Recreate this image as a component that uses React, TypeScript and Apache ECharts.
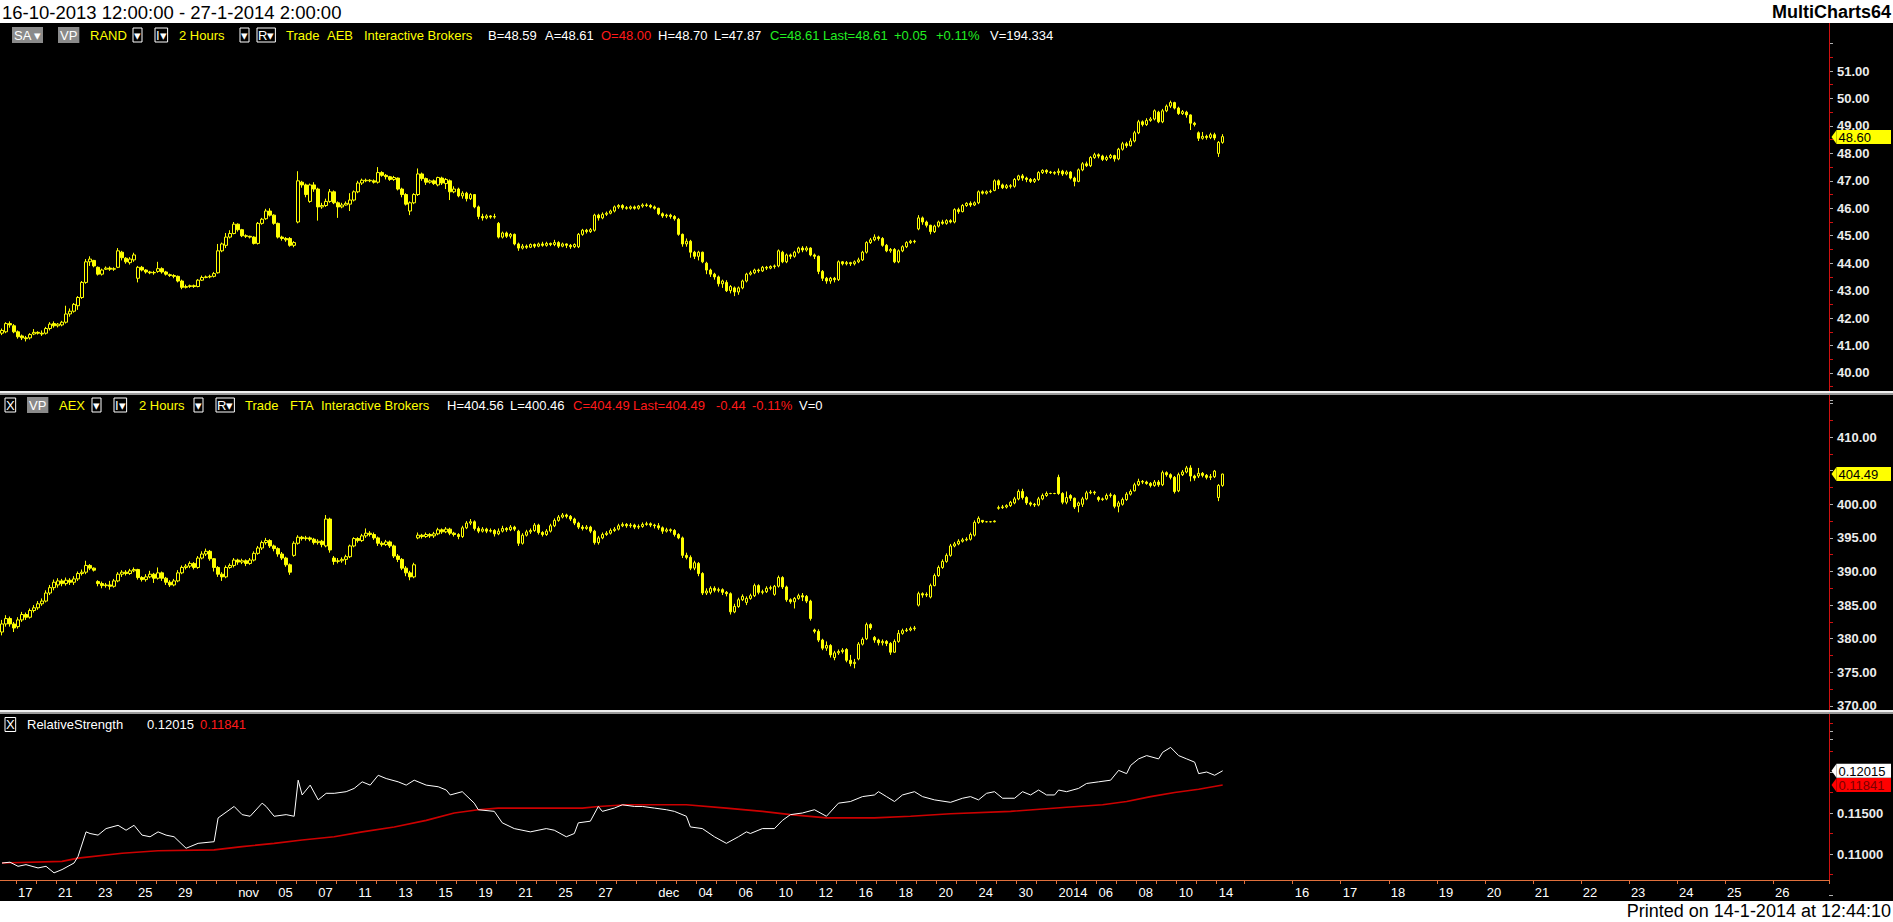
import React, { useEffect, useRef } from 'react';
import * as echarts from 'echarts';

const FONT = "'Liberation Sans', Arial, Helvetica, sans-serif";

// ---------- DATA ----------
// RAND 2-hour bars: [open, close, low, high]
const randBars: number[][] = [
[41.45,41.55,41.38,41.62],[41.50,41.80,41.45,41.85],[41.80,41.75,41.65,41.88],[41.72,41.50,41.45,41.78],[41.50,41.32,41.25,41.55],[41.35,41.28,41.20,41.40],[41.28,41.25,41.15,41.35],[41.28,41.40,41.22,41.45],[41.42,41.48,41.38,41.60],[41.48,41.45,41.40,41.52],
[41.45,41.42,41.35,41.55],[41.45,41.62,41.40,41.68],[41.62,41.78,41.55,41.85],[41.80,41.72,41.65,41.88],[41.72,41.78,41.66,41.82],[41.75,41.85,41.70,41.90],[41.85,42.15,41.80,42.45],[42.15,42.25,42.05,42.35],[42.25,42.50,42.20,42.55],[42.45,42.75,42.30,42.80],
[42.75,43.30,42.70,43.35],[43.30,44.05,43.25,44.15],[44.05,44.15,43.90,44.25],[44.10,43.90,43.85,44.12],[43.85,43.60,43.55,43.88],[43.60,43.75,43.55,43.80],[43.78,43.82,43.75,43.88],[43.82,43.78,43.72,43.88],[43.78,43.80,43.72,43.85],[43.85,44.45,43.82,44.55],
[44.40,44.20,44.10,44.45],[44.18,44.05,43.98,44.22],[44.02,44.15,43.95,44.22],[44.12,44.30,44.05,44.38],[43.45,43.85,43.30,43.90],[43.85,43.75,43.70,43.90],[43.75,43.68,43.62,43.78],[43.68,43.65,43.60,43.72],[43.65,43.66,43.58,43.72],[43.70,43.80,43.65,44.05],
[43.80,43.68,43.62,43.85],[43.68,43.60,43.55,43.72],[43.58,43.55,43.50,43.62],[43.55,43.52,43.45,43.60],[43.52,43.35,43.30,43.55],[43.35,43.12,43.05,43.40],[43.12,43.15,43.08,43.22],[43.15,43.18,43.10,43.22],[43.18,43.15,43.10,43.22],[43.15,43.38,43.12,43.42],
[43.38,43.48,43.35,43.55],[43.48,43.50,43.45,43.55],[43.50,43.52,43.45,43.58],[43.52,43.62,43.48,43.68],[43.65,44.45,43.62,44.70],[44.45,44.70,44.40,44.75],[44.65,44.95,44.55,45.10],[44.95,45.08,44.90,45.20],[45.08,45.42,45.05,45.50],[45.42,45.22,45.15,45.45],
[45.22,45.00,44.95,45.25],[45.00,44.98,44.92,45.05],[44.98,44.95,44.90,45.00],[44.95,44.72,44.68,44.98],[44.72,45.45,44.68,45.50],[45.45,45.60,45.40,45.65],[45.62,45.90,45.58,45.98],[45.90,45.75,45.70,46.00],[45.75,45.45,45.40,45.78],[45.45,44.95,44.90,45.48],
[44.95,44.90,44.82,45.00],[44.90,44.85,44.78,44.95],[44.90,44.65,44.60,44.95],[44.65,44.75,44.58,44.80],[45.50,47.00,45.45,47.35],[46.95,46.85,46.75,47.00],[46.85,46.50,46.40,46.90],[46.25,46.85,46.20,46.90],[46.85,46.70,46.60,46.95],[46.70,46.05,45.55,46.75],
[46.05,46.10,45.98,46.20],[46.10,46.25,46.05,46.35],[46.25,46.60,46.20,46.70],[46.60,46.20,46.15,46.65],[46.20,46.05,45.65,46.25],[46.05,46.12,46.00,46.20],[46.12,46.18,46.10,46.25],[46.15,46.30,45.90,46.55],[46.30,46.60,46.25,46.65],[46.60,46.92,46.55,47.00],
[46.92,47.02,46.85,47.08],[47.02,47.00,46.95,47.08],[47.00,47.02,46.95,47.06],[47.00,46.95,46.90,47.05],[46.95,47.30,46.90,47.50],[47.30,47.20,47.15,47.35],[47.20,47.15,47.05,47.25],[47.15,47.05,47.00,47.18],[47.05,47.12,47.00,47.18],[47.10,46.70,46.65,47.12],
[46.70,46.50,46.40,46.75],[46.50,46.15,46.10,46.55],[45.90,46.20,45.75,46.25],[46.20,46.50,46.15,46.55],[46.50,47.25,46.45,47.45],[47.25,47.08,47.00,47.30],[47.08,46.95,46.85,47.12],[46.95,47.00,46.90,47.05],[47.00,46.90,46.85,47.05],[46.85,47.12,46.80,47.15],
[47.10,46.92,46.85,47.15],[46.90,47.05,46.70,47.10],[47.00,46.60,46.30,47.05],[46.60,46.70,46.55,46.80],[46.70,46.45,46.40,46.75],[46.45,46.55,46.35,46.62],[46.55,46.35,46.25,46.60],[46.35,46.50,46.30,46.55],[46.50,46.05,46.00,46.52],[46.05,45.70,45.60,46.10],
[45.70,45.65,45.55,45.80],[45.65,45.72,45.60,45.78],[45.72,45.68,45.62,45.75],[45.68,45.70,45.62,45.80],[45.45,44.95,44.90,45.50],[44.95,45.10,44.90,45.15],[45.10,44.98,44.92,45.15],[44.98,45.05,44.90,45.10],[45.05,44.70,44.65,45.08],[44.70,44.55,44.45,44.75],
[44.55,44.62,44.50,44.70],[44.62,44.58,44.52,44.68],[44.58,44.68,44.55,44.72],[44.68,44.62,44.55,44.72],[44.62,44.70,44.58,44.75],[44.70,44.65,44.60,44.78],[44.65,44.72,44.60,44.78],[44.72,44.68,44.62,44.75],[44.68,44.75,44.62,44.85],[44.75,44.62,44.55,44.80],
[44.62,44.70,44.58,44.75],[44.70,44.65,44.55,44.72],[44.65,44.60,44.52,44.70],[44.60,44.68,44.55,44.72],[44.60,45.05,44.55,45.10],[45.05,45.20,45.00,45.25],[45.20,45.15,45.08,45.25],[45.15,45.22,45.10,45.28],[45.20,45.75,45.15,45.80],[45.75,45.65,45.55,45.80],
[45.65,45.78,45.60,45.85],[45.78,45.82,45.72,45.88],[45.82,45.90,45.78,45.95],[45.90,46.05,45.85,46.10],[46.05,46.10,45.98,46.15],[46.10,46.02,45.95,46.15],[46.02,46.00,45.95,46.08],[46.00,46.05,45.95,46.10],[46.05,46.00,45.95,46.10],[46.00,46.08,45.95,46.12],
[46.08,46.12,46.02,46.18],[46.12,46.10,46.05,46.18],[46.10,46.05,46.00,46.15],[46.05,46.00,45.95,46.10],[46.00,45.80,45.75,46.02],[45.80,45.72,45.65,45.85],[45.72,45.75,45.65,45.80],[45.75,45.70,45.62,45.80],[45.70,45.62,45.55,45.75],[45.60,45.05,45.00,45.65],
[45.05,44.70,44.60,45.08],[44.70,44.80,44.60,44.90],[44.80,44.40,44.20,44.85],[44.40,44.25,44.15,44.45],[44.25,44.40,44.10,44.45],[44.40,44.05,44.00,44.42],[44.00,43.75,43.60,44.05],[43.75,43.60,43.50,43.80],[43.60,43.50,43.40,43.65],[43.50,43.25,43.15,43.55],
[43.25,43.35,43.10,43.40],[43.30,43.00,42.95,43.38],[43.00,43.15,42.90,43.20],[43.10,42.95,42.80,43.15],[42.95,43.10,42.85,43.15],[43.10,43.35,43.05,43.40],[43.35,43.60,43.30,43.65],[43.60,43.65,43.55,43.72],[43.65,43.75,43.60,43.80],[43.75,43.72,43.65,43.80],
[43.72,43.85,43.68,43.90],[43.85,43.82,43.75,43.90],[43.82,43.88,43.78,43.92],[43.88,43.90,43.80,43.95],[43.90,44.45,43.85,44.50],[44.40,44.05,44.00,44.45],[44.05,44.30,44.00,44.35],[44.30,44.25,44.15,44.35],[44.25,44.40,44.20,44.45],[44.40,44.55,44.35,44.60],
[44.55,44.48,44.40,44.62],[44.48,44.55,44.42,44.62],[44.55,44.30,44.25,44.58],[44.30,44.25,44.15,44.35],[44.25,43.70,43.60,44.28],[43.70,43.45,43.35,43.75],[43.45,43.35,43.25,43.50],[43.35,43.45,43.25,43.50],[43.45,43.40,43.30,43.50],[43.40,44.05,43.35,44.10],
[44.05,43.98,43.92,44.08],[43.98,44.02,43.92,44.08],[44.02,43.98,43.90,44.05],[43.98,44.05,43.92,44.10],[44.05,44.12,44.00,44.20],[44.12,44.40,44.08,44.45],[44.40,44.75,44.35,44.80],[44.75,44.85,44.70,44.92],[44.85,44.95,44.80,45.05],[44.95,44.90,44.82,45.00],
[44.90,44.65,44.60,44.95],[44.65,44.45,44.40,44.70],[44.45,44.50,44.38,44.55],[44.50,44.05,44.00,44.55],[44.05,44.45,44.00,44.50],[44.45,44.60,44.40,44.65],[44.60,44.75,44.55,44.80],[44.75,44.80,44.70,44.85],[44.80,44.78,44.72,44.85],[45.25,45.65,45.20,45.75],
[45.65,45.50,45.40,45.70],[45.50,45.38,45.30,45.55],[45.38,45.15,45.05,45.40],[45.15,45.35,45.10,45.40],[45.35,45.50,45.30,45.55],[45.50,45.45,45.40,45.58],[45.45,45.55,45.40,45.60],[45.55,45.50,45.45,45.60],[45.50,45.95,45.45,46.00],[45.95,45.88,45.80,46.02],
[45.88,46.10,45.85,46.15],[46.10,46.18,46.05,46.22],[46.18,46.12,46.05,46.25],[46.12,46.20,46.08,46.25],[46.20,46.60,46.15,46.65],[46.60,46.55,46.50,46.65],[46.55,46.60,46.50,46.65],[46.60,46.62,46.55,46.68],[46.65,47.00,46.62,47.05],[47.00,46.85,46.70,47.05],
[46.85,46.75,46.70,46.90],[46.75,46.82,46.70,46.88],[46.82,46.80,46.72,46.88],[46.80,47.05,46.75,47.10],[47.05,47.18,47.00,47.22],[47.18,47.10,47.00,47.25],[47.10,47.05,46.95,47.15],[47.05,46.98,46.92,47.10],[46.98,47.05,46.92,47.10],[47.05,47.30,47.00,47.35],
[47.30,47.38,47.25,47.42],[47.38,47.32,47.25,47.42],[47.32,47.30,47.25,47.36],[47.30,47.28,47.22,47.35],[47.30,47.35,47.20,47.45],[47.35,47.25,47.18,47.40],[47.25,47.32,47.20,47.38],[47.32,47.10,47.05,47.35],[47.10,46.98,46.80,47.15],[46.98,47.40,46.95,47.45],
[47.40,47.62,47.35,47.68],[47.62,47.55,47.50,47.70],[47.55,47.85,47.50,47.90],[47.85,47.95,47.80,48.02],[47.95,47.90,47.82,48.00],[47.90,47.78,47.72,47.95],[47.78,47.85,47.72,47.92],[47.85,47.92,47.80,47.98],[47.92,47.80,47.70,47.95],[47.80,48.15,47.75,48.20],
[48.15,48.35,48.10,48.42],[48.35,48.28,48.20,48.42],[48.28,48.45,48.25,48.55],[48.45,48.75,48.40,48.82],[48.75,49.15,48.70,49.22],[49.15,49.05,48.98,49.20],[49.05,49.20,49.00,49.28],[49.20,49.25,49.15,49.32],[49.25,49.55,49.20,49.60],[49.50,49.15,49.10,49.55],
[49.15,49.55,49.10,49.62],[49.55,49.72,49.50,49.78],[49.72,49.85,49.65,49.92],[49.85,49.65,49.60,49.88],[49.65,49.45,49.40,49.70],[49.45,49.52,49.40,49.58],[49.50,49.40,49.30,49.55],[49.40,49.10,48.85,49.42],[49.10,49.05,48.98,49.15],[48.75,48.55,48.45,48.80],
[48.55,48.62,48.50,48.78],[48.62,48.58,48.50,48.68],[48.58,48.68,48.52,48.75],[48.68,48.56,48.48,48.75],[48.00,48.40,47.87,48.45],[48.40,48.61,48.35,48.70],
];

// AEX 2-hour bars: [open, close, low, high]
const aexBars: number[][] = [
[381.0,382.2,380.5,382.8],[382.2,383.0,381.8,383.5],[383.0,382.2,381.8,383.3],[382.2,381.6,381.0,382.5],[381.8,382.8,381.5,383.2],[382.8,383.6,382.5,384.0],[383.6,383.2,382.8,383.9],[383.2,384.2,383.0,384.5],[384.2,384.6,383.9,385.0],[384.6,385.2,384.3,385.6],
[385.2,385.6,384.9,386.0],[385.6,386.8,385.4,387.2],[386.8,387.6,386.5,388.0],[387.6,388.4,387.2,388.8],[388.0,388.6,387.6,389.0],[388.6,388.2,387.8,388.9],[388.2,388.7,387.9,389.1],[388.7,388.4,388.0,389.0],[388.4,388.9,388.0,389.3],[388.9,389.7,388.6,390.0],
[389.7,389.9,389.4,390.3],[389.9,390.9,389.6,391.6],[390.9,390.5,390.2,391.1],[390.5,390.2,390.0,390.6],[388.5,388.2,387.8,388.7],[388.2,387.9,387.5,388.5],[387.9,388.0,387.6,388.3],[388.0,387.8,387.3,388.6],[387.8,388.6,387.6,388.9],[388.6,389.6,388.4,389.9],
[389.6,389.9,389.2,390.2],[389.9,389.7,389.4,390.2],[389.7,390.1,389.5,390.4],[390.1,390.3,389.9,390.6],[390.3,389.1,388.8,390.4],[389.1,388.8,388.5,389.3],[388.8,389.2,388.5,389.6],[389.2,389.6,389.0,390.1],[389.6,389.0,388.3,389.8],[389.0,389.8,388.8,390.6],
[389.8,389.0,388.6,390.0],[389.0,388.4,388.0,389.2],[388.4,388.0,387.7,388.7],[388.0,388.6,387.8,388.9],[388.6,389.8,388.4,390.2],[389.8,390.6,389.6,390.9],[390.6,390.8,390.3,391.1],[390.8,391.2,390.5,391.5],[391.2,390.6,390.3,391.4],[390.6,392.0,390.4,392.3],
[392.0,392.6,391.8,393.0],[392.6,393.0,392.3,393.4],[393.0,391.9,391.6,393.2],[391.9,390.6,390.0,392.0],[390.6,389.6,389.2,390.8],[389.6,389.2,388.6,389.9],[389.2,390.6,389.0,390.9],[390.6,390.9,390.4,391.2],[390.9,391.7,390.6,392.0],[391.7,391.4,391.0,391.9],
[391.4,391.6,391.1,391.9],[391.6,391.2,390.8,391.8],[391.2,391.7,391.0,392.0],[391.7,392.7,391.5,393.0],[392.7,393.5,392.5,393.8],[393.5,394.3,393.2,394.6],[394.3,394.6,394.0,395.0],[394.6,393.8,393.5,394.8],[393.8,393.4,393.0,394.0],[393.4,392.6,392.2,393.6],
[392.6,392.0,391.7,392.9],[392.0,391.0,390.7,392.2],[391.0,389.9,389.5,391.2],[392.4,394.2,392.2,394.5],[394.2,395.1,394.0,395.4],[395.1,394.9,394.6,395.3],[394.9,395.0,394.6,395.3],[395.0,394.8,394.5,395.2],[394.8,394.3,394.0,395.0],[394.3,394.5,394.0,394.8],
[394.5,394.0,393.6,394.7],[393.8,397.8,393.6,398.4],[397.8,393.2,392.8,398.0],[392.0,391.5,391.0,392.3],[391.5,391.6,391.2,392.0],[391.6,391.8,391.3,392.1],[391.8,392.2,391.0,392.5],[392.2,393.8,392.0,394.0],[393.8,394.9,393.6,395.1],[394.9,394.6,394.3,395.1],
[394.6,395.3,394.4,395.6],[395.3,395.7,395.0,396.4],[395.7,395.5,395.2,396.0],[395.5,395.0,394.7,395.8],[395.0,394.2,393.8,395.2],[394.2,394.0,393.7,394.5],[394.0,394.4,393.8,394.7],[394.4,393.8,393.5,394.6],[393.8,392.3,392.0,394.0],[392.3,391.8,391.4,392.6],
[391.8,390.5,390.2,392.0],[390.5,389.8,389.3,390.8],[389.8,389.2,388.7,390.1],[389.2,391.0,389.0,391.3],[395.0,395.4,394.8,395.8],[395.4,395.2,394.9,395.6],[395.2,395.5,395.0,395.8],[395.5,395.3,395.0,395.7],[395.3,395.6,395.0,395.9],[395.6,396.2,395.4,396.5],
[396.2,395.9,395.6,396.4],[395.9,396.3,395.7,396.6],[396.3,395.7,395.4,396.5],[395.7,395.5,395.2,395.9],[395.5,395.2,394.8,395.7],[395.2,396.5,395.0,396.8],[396.5,397.2,396.3,397.5],[397.2,397.4,396.9,397.8],[397.4,396.4,396.1,397.6],[396.4,396.0,395.7,396.7],
[396.0,396.3,395.8,396.6],[396.3,396.0,395.7,396.5],[396.0,396.1,395.8,396.4],[396.1,395.6,395.2,396.3],[395.6,396.0,395.4,396.4],[396.0,396.4,395.8,396.8],[396.4,396.2,395.9,396.6],[396.2,396.6,396.0,396.9],[396.6,396.3,396.0,396.8],[396.0,394.2,393.8,396.2],
[394.2,395.4,394.0,395.7],[395.4,395.9,395.2,396.2],[395.9,396.1,395.6,396.4],[396.1,396.9,395.9,397.2],[396.9,395.8,395.5,397.1],[395.8,395.5,395.2,396.0],[395.5,396.0,395.3,396.3],[396.0,396.8,395.8,397.1],[396.8,397.6,396.6,397.9],[397.6,398.1,397.4,398.4],
[398.1,398.4,397.9,398.7],[398.4,398.2,397.9,398.6],[398.2,397.8,397.5,398.4],[397.8,397.2,396.9,398.0],[397.2,396.6,396.3,397.4],[396.6,396.4,396.1,396.9],[396.4,396.6,396.2,396.9],[396.6,396.0,395.7,396.8],[396.0,394.3,394.0,396.2],[394.3,395.0,394.0,395.3],
[395.0,395.5,394.8,395.8],[395.5,395.7,395.3,396.0],[395.7,396.1,395.5,396.4],[396.1,396.3,395.9,396.6],[396.3,396.8,396.1,397.1],[396.8,397.0,396.6,397.3],[397.0,396.8,396.5,397.2],[396.8,396.9,396.5,397.2],[396.9,396.6,396.3,397.1],[396.6,396.7,396.3,397.0],
[396.7,397.0,396.5,397.3],[397.0,397.1,396.8,397.4],[397.1,396.9,396.6,397.3],[396.9,396.8,396.4,397.1],[396.8,396.5,396.2,397.2],[396.5,396.0,395.6,396.7],[396.0,396.2,395.8,396.5],[396.2,396.1,395.8,396.4],[396.1,395.5,395.2,396.3],[395.5,395.0,394.8,395.7],
[395.0,392.4,392.0,395.2],[392.4,392.1,391.8,392.8],[392.1,390.5,390.2,392.4],[390.5,391.3,390.2,391.6],[391.2,389.7,389.3,391.4],[389.7,386.8,386.5,389.9],[386.8,387.1,386.5,387.5],[386.9,387.5,386.6,387.8],[387.5,387.2,386.9,387.8],[387.2,387.3,386.9,387.6],
[387.3,386.9,386.5,387.5],[386.9,386.7,386.3,387.1],[386.7,384.0,383.6,386.9],[384.0,384.8,383.8,385.2],[384.8,385.8,384.6,386.1],[385.8,386.3,385.6,386.6],[385.4,386.0,385.0,386.3],[386.0,386.4,385.8,386.7],[386.4,387.9,386.2,388.2],[387.9,386.9,386.6,388.1],
[386.9,387.0,386.6,387.3],[387.0,387.5,386.8,387.8],[387.5,387.6,387.2,387.9],[386.6,387.8,386.4,388.0],[387.8,389.1,387.6,389.4],[389.1,387.7,387.4,389.3],[387.7,385.8,385.5,387.9],[385.8,385.5,385.2,386.0],[385.5,386.0,384.5,386.2],[386.0,386.4,385.8,386.7],
[386.4,386.2,385.6,386.8],[386.3,385.6,385.3,386.5],[385.6,383.0,382.7,385.8],[381.3,381.1,380.8,381.5],[381.1,379.8,379.5,381.4],[379.8,378.6,378.3,380.0],[378.6,379.0,378.2,379.6],[379.0,377.6,377.2,379.2],[377.2,377.9,376.8,378.2],[377.9,378.1,377.6,378.4],
[378.1,378.3,377.8,378.6],[378.4,376.8,376.5,378.6],[376.8,376.3,375.9,377.6],[376.3,376.5,375.6,377.0],[377.0,379.2,376.8,379.5],[379.2,379.9,379.0,380.2],[380.0,382.1,379.8,382.4],[382.1,381.6,381.3,382.3],[380.2,379.8,379.4,380.4],[379.8,379.4,379.0,380.0],
[379.4,379.6,379.0,379.9],[379.6,379.3,378.9,379.8],[379.3,378.0,377.6,379.5],[378.0,379.6,377.9,379.9],[379.6,380.8,379.4,381.3],[380.8,381.2,380.6,381.5],[381.2,381.3,381.0,381.6],[381.3,381.5,381.1,381.8],[381.5,381.6,381.2,381.9],[385.0,386.7,384.8,387.0],
[386.7,386.5,386.1,386.9],[386.5,386.6,386.2,386.9],[386.2,387.9,386.0,388.2],[387.9,389.4,387.8,389.7],[389.4,390.6,389.2,390.9],[390.6,391.5,390.4,391.8],[391.5,392.4,391.3,392.7],[392.4,393.8,392.2,394.1],[393.8,394.1,393.6,394.4],[394.1,394.5,393.9,394.8],
[394.5,394.7,394.3,395.0],[394.7,394.8,394.5,395.1],[394.8,395.5,394.6,395.8],[395.4,397.3,395.2,397.6],[397.3,397.9,397.1,398.2],[397.6,397.4,397.2,397.6],[397.4,397.4,397.3,397.5],[397.4,397.4,397.3,397.5],[397.4,397.5,397.3,397.6],[399.4,399.5,399.2,399.8],
[399.5,399.6,399.3,399.9],[399.6,399.8,399.4,400.0],[399.8,400.3,399.6,400.5],[400.2,400.8,400.0,401.1],[400.8,401.9,400.6,402.2],[401.9,401.0,400.7,402.3],[401.0,400.2,399.9,401.2],[400.2,400.0,399.7,400.4],[400.0,399.9,399.6,400.2],[399.9,400.8,399.7,401.1],
[400.8,401.3,400.6,401.6],[401.3,401.6,401.1,401.9],[401.6,401.6,401.5,401.7],[401.6,401.6,401.5,401.7],[404.0,401.6,401.4,404.4],[401.6,400.3,400.0,401.8],[400.3,401.0,400.0,401.9],[401.3,400.9,400.5,401.5],[400.9,399.6,399.3,401.0],[399.8,400.2,398.8,400.4],
[400.0,400.8,399.6,401.1],[400.8,401.7,400.6,402.0],[401.7,401.8,401.5,402.1],[401.8,401.7,401.4,402.0],[401.0,400.7,400.4,401.2],[400.7,400.8,400.5,401.0],[400.8,401.3,400.6,401.6],[401.3,401.4,401.0,401.7],[401.3,399.7,399.4,401.5],[399.7,400.2,398.8,400.5],
[400.0,400.7,399.8,401.0],[400.7,401.5,400.5,401.8],[401.5,401.9,401.3,402.2],[402.0,402.9,401.9,403.2],[402.9,403.4,402.7,403.8],[403.4,403.3,403.0,403.6],[403.3,403.1,402.9,403.5],[403.1,402.8,402.5,403.3],[402.8,403.3,402.6,403.6],[403.3,402.9,402.6,403.6],
[402.9,404.7,402.7,405.0],[404.7,404.4,404.1,404.9],[404.4,404.0,403.7,404.6],[404.0,401.9,401.6,404.2],[402.0,404.4,401.8,404.7],[404.4,404.8,404.2,405.1],[404.8,405.4,404.6,405.7],[405.4,404.2,403.4,405.8],[404.2,403.9,403.5,404.4],[404.2,404.6,403.9,405.4],
[404.6,404.3,404.0,404.8],[404.3,404.0,403.7,404.5],[404.0,404.1,403.6,404.5],[404.1,404.93,403.9,405.1],[401.0,402.8,400.46,403.0],[402.8,404.49,402.6,404.56],
];

// Relative strength (white line), read at these bar numbers
const rsBar = [0,2,4,6,9,11,13,15,18,19,21,22,24,26,29,31,33,35,37,39,41,43,46,47,49,53,54,58,60,62,65,66,68,71,73,74,75,77,79,81,83,86,88,90,92,94,96,99,101,103,106,109,111,112,115,118,119,123,125,128,132,136,138,141,143,144,147,149,150,153,155,158,160,163,166,168,171,172,175,178,181,184,186,187,190,193,195,197,200,203,206,209,212,215,218,219,221,223,225,228,230,233,237,240,242,244,246,248,250,253,255,257,259,261,263,264,266,269,271,274,277,279,281,282,284,286,289,290,292,294,296,298,299,301,303,305];
const rsValue = [0.1089,0.1090,0.1085,0.1087,0.1083,0.1085,0.1077,0.1081,0.1089,0.1097,0.1127,0.1125,0.1123,0.1131,0.1135,0.1129,0.1135,0.1123,0.1121,0.1127,0.1123,0.1121,0.1107,0.1109,0.1113,0.1115,0.1144,0.1158,0.1148,0.1146,0.1162,0.1158,0.1146,0.1148,0.1146,0.1190,0.1172,0.1184,0.1166,0.1174,0.1174,0.1176,0.1180,0.1188,0.1184,0.1196,0.1192,0.1188,0.1184,0.1190,0.1184,0.1182,0.1178,0.1172,0.1176,0.1162,0.1154,0.1152,0.1138,0.1131,0.1127,0.1131,0.1129,0.1121,0.1125,0.1138,0.1140,0.1158,0.1152,0.1156,0.1160,0.1158,0.1158,0.1156,0.1154,0.1152,0.1146,0.1133,0.1131,0.1121,0.1113,0.1121,0.1127,0.1125,0.1131,0.1131,0.1141,0.1148,0.1150,0.1154,0.1146,0.1162,0.1164,0.1170,0.1172,0.1176,0.1170,0.1164,0.1172,0.1176,0.1170,0.1166,0.1163,0.1168,0.1170,0.1166,0.1174,0.1176,0.1168,0.1168,0.1176,0.1172,0.1178,0.1172,0.1172,0.1178,0.1176,0.1180,0.1186,0.1188,0.1190,0.1202,0.1198,0.1208,0.1216,0.1220,0.1216,0.1224,0.1230,0.1220,0.1216,0.1212,0.1198,0.1200,0.1196,0.12015];

// Average of relative strength (red line)
const avgBar = [0,15,19,30,39,53,60,68,75,83,90,98,106,113,119,124,136,145,149,156,171,181,190,197,206,218,227,237,252,266,275,281,287,293,299,305];
const avgValue = [0.1089,0.1091,0.1095,0.1101,0.1104,0.1105,0.1109,0.1113,0.1117,0.1121,0.1127,0.1133,0.1141,0.1150,0.1154,0.1156,0.1156,0.1156,0.1158,0.1160,0.1160,0.1156,0.1152,0.1148,0.1144,0.1144,0.1146,0.1149,0.1152,0.1157,0.1160,0.1164,0.1170,0.1175,0.1179,0.11841];

// Session tick labels (one entry per trading session from 17 Oct 2013)
const sessionLabels = ['17','','21','','23','','25','','29','','','nov','','05','','07','','11','','13','','15','','19','','21','','25','','27','','','dec','','04','','06','','10','','12','','16','','18','','20','','24','','30','','2014','','06','','08','','10','','14'];
// Future (empty) days on the time scale
const futureLabels = ['','16','17','18','19','20','21','22','23','24','25','26'];

// price-scale labels that sit under a last-value tag
const coveredLabels = [405, 0.12];

// last-value tags on the price scales
const tagAxis = [0, 1, 2, 2];
const tagValue = [48.60, 404.49, 0.12015, 0.11841];
const tagText = ['48.60', '404.49', '0.12015', '0.11841'];
const tagFill = ['#ffff00', '#ffff00', '#ffffff', '#ff0000'];
const tagInk = ['#000000', '#000000', '#000000', '#7a0000'];

// axis structure
const TOTAL_SLOTS = 457;
const FIRST_SESSION_BARS = 4;
const BARS_PER_SESSION = 5;
const FUTURE_START = 311;
const FUTURE_SLOTS_PER_DAY = 12;

const YELLOW = '#ffff00';
const AXIS_RED = '#d01010';
const ORANGE = '#e0703c';
const SCALE_X = 1829.5;

type HItem = { x: number; t: string; k: 'y' | 'w' | 'r' | 'g' | 'gray' | 'box' };

function header(y: number, items: HItem[]) {
  return items.map((it) => {
    const style: any = {
      text: it.t,
      fontSize: 13,
      fontFamily: FONT,
      verticalAlign: 'middle',
      align: 'left',
    };
    if (it.k === 'y') style.fill = YELLOW;
    if (it.k === 'w') style.fill = '#ffffff';
    if (it.k === 'r') style.fill = '#ff1a1a';
    if (it.k === 'g') style.fill = '#22ee22';
    if (it.k === 'gray') {
      style.fill = '#ffffff';
      style.backgroundColor = '#8a8a8a';
      style.padding = [2, 2, 1, 2];
    }
    if (it.k === 'box') {
      style.fill = '#ffffff';
      style.borderColor = '#ffffff';
      style.borderWidth = 1;
      style.padding = [1, 1, 0, 1];
    }
    return { type: 'text', x: it.x, y, z: 120, style };
  });
}

const isCovered = (v: number) => coveredLabels.some((c) => Math.abs(c - v) < 1e-9);

export default function App() {
  const ref = useRef<HTMLDivElement>(null);

  useEffect(() => {
    document.body.style.margin = '0';
    document.body.style.background = '#000';
    const chart = echarts.init(ref.current!, null, { renderer: 'svg' });

    const cats = Array.from({ length: TOTAL_SLOTS }, (_, i) => String(i));
    const labelAt = new Map<number, string>();
    const tickAt = new Set<number>();
    sessionLabels.forEach((lab, k) => {
      const idx = FIRST_SESSION_BARS + k * BARS_PER_SESSION;
      tickAt.add(idx);
      if (lab) labelAt.set(idx, lab);
    });
    futureLabels.forEach((lab, k) => {
      const idx = FUTURE_START + k * FUTURE_SLOTS_PER_DAY;
      tickAt.add(idx);
      if (lab) labelAt.set(idx, lab);
    });

    const hiddenX = (gridIndex: number) => ({
      type: 'category',
      gridIndex,
      data: cats,
      boundaryGap: true,
      show: false,
    });

    const yCommon = {
      position: 'right',
      axisLine: { show: false },
      splitLine: { show: false },
      axisTick: { show: true, length: 4, lineStyle: { color: '#b0b0b0' } },
      minorTick: { show: true, splitNumber: 2, length: 4, lineStyle: { color: AXIS_RED } },
    };
    const yLabel = {
      color: '#ececec',
      fontFamily: FONT,
      fontSize: 13,
      fontWeight: 'bold',
      margin: 8,
    };
    const candleStyle = {
      color: '#000000',
      color0: YELLOW,
      borderColor: YELLOW,
      borderColor0: YELLOW,
      borderColorDoji: YELLOW,
      borderWidth: 1,
    };

    const baseGraphic: any[] = [
      // white title strip
      { type: 'rect', z: 110, shape: { x: 0, y: 0, width: 1893, height: 23 }, style: { fill: '#ffffff' } },
      {
        type: 'text', z: 120, x: 2, y: 12,
        style: { text: '16-10-2013 12:00:00 - 27-1-2014 2:00:00', fill: '#000', fontSize: 18.5, fontFamily: FONT, verticalAlign: 'middle' },
      },
      {
        type: 'text', z: 120, x: 1891, y: 12,
        style: { text: 'MultiCharts64', fill: '#000', fontSize: 18, fontWeight: 'bold', fontFamily: FONT, align: 'right', verticalAlign: 'middle' },
      },
      // bottom strip
      { type: 'rect', z: 110, shape: { x: 0, y: 901, width: 1893, height: 21 }, style: { fill: '#ffffff' } },
      {
        type: 'text', z: 120, x: 1891, y: 911,
        style: { text: 'Printed on 14-1-2014 at 12:44:10', fill: '#000', fontSize: 18, fontFamily: FONT, align: 'right', verticalAlign: 'middle' },
      },
      // right scale line
      { type: 'line', z: 105, shape: { x1: SCALE_X, y1: 23, x2: SCALE_X, y2: 880 }, style: { stroke: AXIS_RED, lineWidth: 1 } },
      // pane separators
      { type: 'rect', z: 110, shape: { x: 0, y: 391, width: 1893, height: 2 }, style: { fill: '#f0f0f0' } },
      { type: 'rect', z: 110, shape: { x: 0, y: 393, width: 1893, height: 2 }, style: { fill: '#9a9a9a' } },
      { type: 'rect', z: 110, shape: { x: 0, y: 710, width: 1893, height: 2 }, style: { fill: '#f0f0f0' } },
      { type: 'rect', z: 110, shape: { x: 0, y: 712, width: 1893, height: 2 }, style: { fill: '#9a9a9a' } },
      ...header(35, [
        { x: 12, t: 'SA', k: 'gray' },
        { x: 32, t: '▾', k: 'gray' },
        { x: 58, t: 'VP', k: 'gray' },
        { x: 90, t: 'RAND', k: 'y' },
        { x: 133, t: '▾', k: 'box' },
        { x: 155, t: 'I▾', k: 'box' },
        { x: 179, t: '2 Hours', k: 'y' },
        { x: 240, t: '▾', k: 'box' },
        { x: 257, t: 'R▾', k: 'box' },
        { x: 286, t: 'Trade', k: 'y' },
        { x: 327, t: 'AEB', k: 'y' },
        { x: 364, t: 'Interactive Brokers', k: 'y' },
        { x: 488, t: 'B=48.59', k: 'w' },
        { x: 545, t: 'A=48.61', k: 'w' },
        { x: 601, t: 'O=48.00', k: 'r' },
        { x: 658, t: 'H=48.70', k: 'w' },
        { x: 714, t: 'L=47.87', k: 'w' },
        { x: 770, t: 'C=48.61', k: 'g' },
        { x: 823, t: 'Last=48.61', k: 'g' },
        { x: 894, t: '+0.05', k: 'g' },
        { x: 936, t: '+0.11%', k: 'g' },
        { x: 990, t: 'V=194.334', k: 'w' },
      ]),
      ...header(405, [
        { x: 5, t: 'X', k: 'box' },
        { x: 27, t: 'VP', k: 'gray' },
        { x: 59, t: 'AEX', k: 'y' },
        { x: 92, t: '▾', k: 'box' },
        { x: 114, t: 'I▾', k: 'box' },
        { x: 139, t: '2 Hours', k: 'y' },
        { x: 194, t: '▾', k: 'box' },
        { x: 216, t: 'R▾', k: 'box' },
        { x: 245, t: 'Trade', k: 'y' },
        { x: 290, t: 'FTA', k: 'y' },
        { x: 321, t: 'Interactive Brokers', k: 'y' },
        { x: 447, t: 'H=404.56', k: 'w' },
        { x: 510, t: 'L=400.46', k: 'w' },
        { x: 573, t: 'C=404.49', k: 'r' },
        { x: 633, t: 'Last=404.49', k: 'r' },
        { x: 716, t: '-0.44', k: 'r' },
        { x: 752, t: '-0.11%', k: 'r' },
        { x: 799, t: 'V=0', k: 'w' },
      ]),
      ...header(724.5, [
        { x: 5, t: 'X', k: 'box' },
        { x: 27, t: 'RelativeStrength', k: 'w' },
        { x: 147, t: '0.12015', k: 'w' },
        { x: 200, t: '0.11841', k: 'r' },
      ]),
    ];

    const option: any = {
      animation: false,
      backgroundColor: '#000000',
      grid: [
        { left: 0, right: 64, top: 43.55, height: 356.9, outerBoundsMode: 'none', containLabel: false },
        { left: 0, right: 64, top: 403.4, height: 336.2, outerBoundsMode: 'none', containLabel: false },
        { left: 0, right: 64, top: 731, height: 164, outerBoundsMode: 'none', containLabel: false },
      ],
      xAxis: [
        hiddenX(0),
        hiddenX(1),
        {
          type: 'category',
          gridIndex: 2,
          data: cats,
          boundaryGap: true,
          position: 'bottom',
          offset: -15,
          axisLine: { show: true, lineStyle: { color: ORANGE, width: 1 } },
          axisTick: {
            show: true,
            length: 4,
            interval: (i: number) => tickAt.has(i),
            lineStyle: { color: ORANGE },
          },
          axisLabel: {
            show: true,
            interval: (i: number) => labelAt.has(i),
            formatter: (_v: string, i: number) => labelAt.get(i) || '',
            color: '#ffffff',
            fontFamily: FONT,
            fontSize: 13,
            align: 'left',
            margin: 6,
          },
          splitLine: { show: false },
        },
      ],
      yAxis: [
        {
          ...yCommon,
          type: 'value',
          gridIndex: 0,
          min: 39,
          max: 52,
          interval: 1,
          axisLabel: { ...yLabel, formatter: (v: number) => (v >= 40 && v <= 51 && !isCovered(v) ? v.toFixed(2) : '') },
        },
        {
          ...yCommon,
          type: 'value',
          gridIndex: 1,
          min: 365,
          max: 415,
          interval: 5,
          axisLabel: { ...yLabel, formatter: (v: number) => (v >= 370 && v <= 410 && !isCovered(v) ? v.toFixed(2) : '') },
        },
        {
          ...yCommon,
          type: 'value',
          gridIndex: 2,
          min: 0.105,
          max: 0.125,
          interval: 0.005,
          axisLabel: {
            ...yLabel,
            formatter: (v: number) => (v > 0.1075 && v < 0.1225 && !isCovered(v) ? v.toFixed(5) : ''),
          },
        },
      ],
      series: [
        {
          type: 'candlestick',
          name: 'RAND',
          xAxisIndex: 0,
          yAxisIndex: 0,
          data: randBars,
          barWidth: 3,
          large: false,
          progressive: 0,
          itemStyle: candleStyle,
        },
        {
          type: 'candlestick',
          name: 'AEX',
          xAxisIndex: 1,
          yAxisIndex: 1,
          data: aexBars,
          barWidth: 3,
          large: false,
          progressive: 0,
          itemStyle: candleStyle,
        },
        {
          type: 'line',
          name: 'RS average',
          xAxisIndex: 2,
          yAxisIndex: 2,
          data: avgBar.map((b, k) => [b, avgValue[k]]),
          showSymbol: false,
          symbol: 'none',
          lineStyle: { color: '#cc0000', width: 1.6 },
        },
        {
          type: 'line',
          name: 'RelativeStrength',
          xAxisIndex: 2,
          yAxisIndex: 2,
          data: rsBar.map((b, k) => [b, rsValue[k]]),
          showSymbol: false,
          symbol: 'none',
          lineStyle: { color: '#ffffff', width: 1 },
        },
      ],
      graphic: baseGraphic,
    };

    chart.setOption(option);

    // last-value tags placed through the library's own y scales
    const tagGraphic: any[] = [];
    tagValue.forEach((v, k) => {
      const py = chart.convertToPixel({ yAxisIndex: tagAxis[k] } as any, v) as unknown as number;
      if (typeof py !== 'number' || !isFinite(py)) return;
      const h = 14;
      tagGraphic.push({
        type: 'polygon', z: 130,
        shape: { points: [[SCALE_X + 2, py], [SCALE_X + 7, py - h / 2], [SCALE_X + 7, py + h / 2]] },
        style: { fill: tagFill[k] },
      });
      tagGraphic.push({
        type: 'rect', z: 130,
        shape: { x: SCALE_X + 7, y: py - h / 2, width: 1893 - SCALE_X - 9, height: h },
        style: { fill: tagFill[k] },
      });
      tagGraphic.push({
        type: 'text', z: 131, x: SCALE_X + 9, y: py + 0.5,
        style: { text: tagText[k], fill: tagInk[k], fontSize: 13, fontFamily: FONT, verticalAlign: 'middle', align: 'left' },
      });
    });
    chart.setOption({ graphic: [...baseGraphic, ...tagGraphic] });

    return () => chart.dispose();
  }, []);

  return (
    <div
      ref={ref}
      style={{ position: 'fixed', left: 0, top: 0, width: 1893, height: 922, background: '#000' }}
    />
  );
}
